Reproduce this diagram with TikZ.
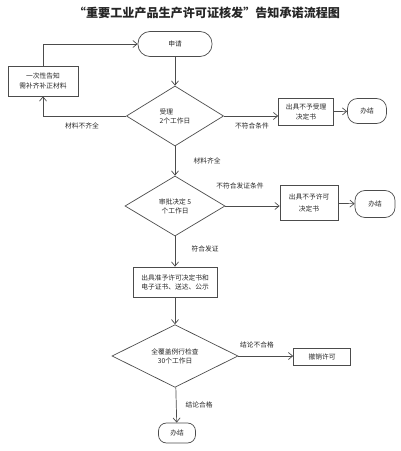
\documentclass[tikz,border=0pt]{standalone}
\usepackage{fontspec}
\newfontfamily\cjk{Noto Sans CJK SC}
\usetikzlibrary{arrows.meta,shapes.geometric}

\begin{document}
\begin{tikzpicture}[x=0.025cm,y=-0.025cm,line width=0.5pt,
  every node/.style={font=\cjk\fontsize{4.8}{6.5}\selectfont,align=center,inner sep=0pt,text=black!85},
  box/.style={draw=black!70,rectangle},
  term/.style={draw=black!70,rectangle,rounded corners=0.25cm},
  check/.style={draw=black!70,diamond},
  flow/.style={draw=black!70,-{Straight Barb[length=3pt,width=5pt]}}]
\useasboundingbox (0,0) rectangle (400,451);

\node[font=\cjk\bfseries\fontsize{8.6}{10}\selectfont] (title) at (207,13) {“重要工业产品生产许可证核发”告知承诺流程图};

% start and first check
\node[term,minimum width=1.85cm,minimum height=0.625cm,rounded corners=0.3cm] (apply) at (175,44) {申请};
\node[box,minimum width=1.75cm,minimum height=0.75cm] (supply) at (43,81) {一次性告知\\需补齐补正材料};
\node[check,minimum width=2.43cm,minimum height=1.5cm,align=left] (accept) at (175,116) {受理\\2个工作日};
\node[box,minimum width=1.375cm,minimum height=0.675cm] (refuse1) at (306,112) {出具不予受理\\决定书};
\node[term,minimum width=0.975cm,minimum height=0.625cm] (end1) at (367,111) {办结};

% approval
\node[check,minimum width=2.5cm,minimum height=1.5cm] (decide) at (175,206) {审批决定 5\\个工作日};
\node[box,minimum width=1.45cm,minimum height=0.875cm,font=\cjk\fontsize{4.8}{9}\selectfont] (refuse2) at (309,203) {出具不予许可\\决定书};
\node[term,minimum width=1.0cm,minimum height=0.675cm] (end2) at (375,204) {办结};
\node[box,minimum width=2.1cm,minimum height=0.75cm,align=left] (grant) at (175,282) {出具准予许可决定书和\\电子证书、送达、公示};

% inspection
\node[check,minimum width=3.15cm,minimum height=1.45cm] (inspect) at (175,356) {全覆盖例行检查\\30个工作日};
\node[box,minimum width=1.425cm,minimum height=0.425cm] (revoke) at (322,357) {撤销许可};
\node[term,minimum width=0.925cm,minimum height=0.5cm,rounded corners=0.2cm] (end3) at (177,433) {办结};

% labels
\node (l1) at (82,126) {材料不齐全};
\node (l2) at (252,126) {不符合条件};
\node (l3) at (207,161) {材料齐全};
\node (l4) at (240,186) {不符合发证条件};
\node (l5) at (205,249) {符合发证};
\node (l6) at (257,345) {结论不合格};
\node (l7) at (199,405) {结论合格};

\draw[flow] (apply) -- (accept);
\draw[flow] (accept.west) -| (supply.south);
\draw[flow] (supply.north) |- (apply.west);
\draw[flow] (accept.east) -- (refuse1.west |- accept.east);
\draw[flow] (refuse1) -- (end1);
\draw[flow] (accept) -- (decide);
\draw[flow] (decide.east) -- (refuse2.west |- decide.east);
\draw[flow] (refuse2) -- (end2);
\draw[flow] (decide) -- (grant);
\draw[flow] (grant) -- (inspect);
\draw[flow] (inspect.east) -- (revoke.west |- inspect.east);
\draw[flow] (inspect) -- (end3);
\end{tikzpicture}
\end{document}
